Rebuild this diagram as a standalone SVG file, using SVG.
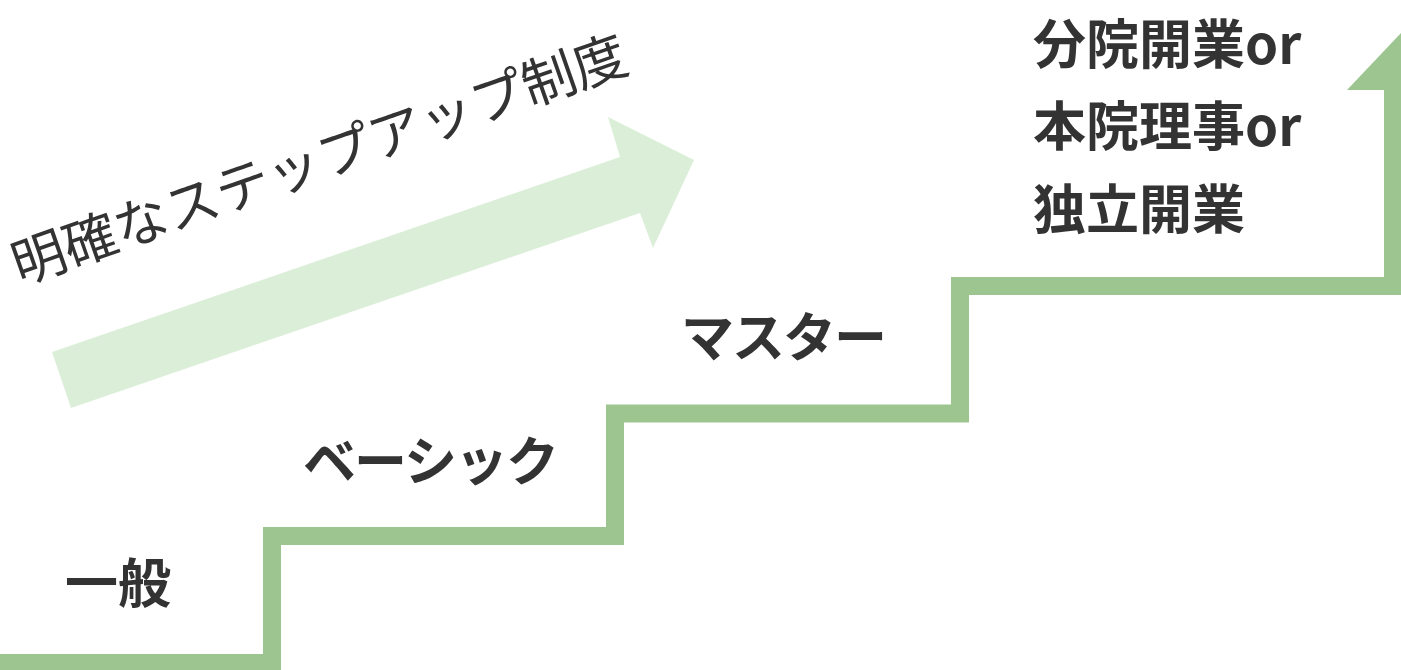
<svg xmlns="http://www.w3.org/2000/svg" width="1401" height="670" viewBox="0 0 1401 670">
<style>
.lbl{font-family:"Noto Sans CJK JP","Noto Sans CJK SC",sans-serif;font-weight:700;font-size:53px;fill:#333333}
.kana{letter-spacing:-2px}
.slogan{font-family:"Noto Sans CJK JP","Noto Sans CJK SC",sans-serif;font-weight:400;font-size:54px;fill:#333333}
.stair{fill:none;stroke:#9cc590;stroke-width:18;stroke-linejoin:miter}
</style>
<rect width="1401" height="670" fill="#ffffff"/>
<g id="big-arrow">
<polygon points="52,352 620,157 608,117 694,160 653,248 640,213 71,408" fill="#dbefd8"/>
</g>
<g id="slogan">
<text class="slogan" x="20" y="285" transform="rotate(-19.3 20 285)">明確なステップアップ制度</text>
</g>
<g id="connectors">
<path class="stair" d="M -10 663 H 272 V 536 H 615 V 413.5 H 960 V 286 H 1393 V 88"/>
<polygon points="1347,90 1401,33 1401,90" fill="#9cc590"/>
</g>
<g id="step-general"><text class="lbl" x="65" y="603">一般</text></g>
<g id="step-basic"><text class="lbl kana" x="303" y="481">ベーシック</text></g>
<g id="step-master"><text class="lbl kana" x="681" y="357">マスター</text></g>
<g id="step-top">
<text class="lbl" x="1033" y="64">分院開業or</text>
<text class="lbl" x="1033" y="146">本院理事or</text>
<text class="lbl" x="1033" y="229">独立開業</text>
</g>
</svg>
